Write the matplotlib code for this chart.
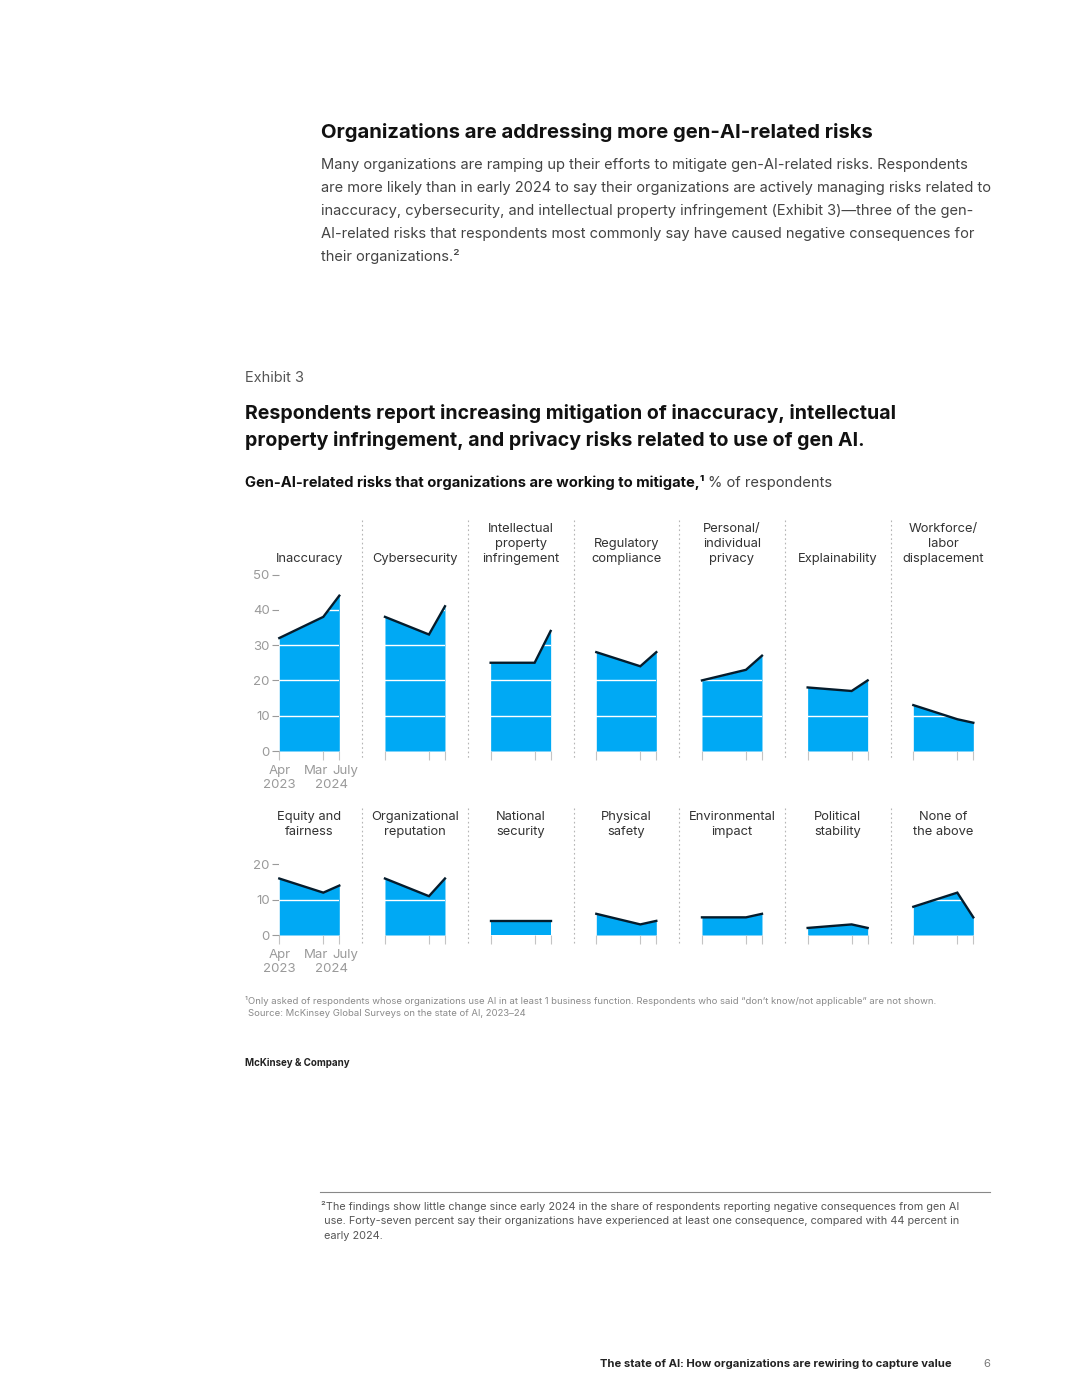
import matplotlib.pyplot as plt
from matplotlib.lines import Line2D

# -------------------------------
# Datos
risks = ["Inaccuracy", "Cybersecurity", "Intellectual\nproperty\ninfringement",
         "Regulatory\ncompliance", "Personal/\nindividual\nprivacy", "Explainability",
         "Workforce/\nlabor\ndisplacement",
         "Equity and\nfairness", "Organizational\nreputation", "National\nsecurity",
         "Physical\nsafety", "Environmental\nimpact", "Political\nstability",
         "None of\nthe above"]
apr_2023 = [32, 38, 25, 28, 20, 18, 13, 16, 16, 4, 6, 5, 2, 8]
mar_2024 = [38, 33, 25, 24, 23, 17, 9, 12, 11, 4, 3, 5, 3, 12]
jul_2024 = [44, 41, 34, 28, 27, 20, 8, 14, 16, 4, 4, 6, 2, 5]
survey_months = [0, 11, 15]   # meses desde abril 2023
top_ticks = [0, 10, 20, 30, 40, 50]
bottom_ticks = [0, 10, 20]

W, H = 1080, 1397
BLUE = "#00A9F4"
NAVY = "#051C2C"
GRAY = "#9a9a9a"
FONT = ["Inter", "DejaVu Sans"]
plt.rcParams["font.family"] = FONT


def fx(x):
    return x / W


def fy(y):
    return 1 - y / H


fig = plt.figure(figsize=(W / 100, H / 100), dpi=100)
fig.patch.set_facecolor("white")


def txt(x, y, s, **kw):
    return fig.text(fx(x), fy(y), s, **kw)


# -------------------------------
# Texto de la página
txt(321, 133, "Organizations are addressing more gen-AI-related risks",
    fontsize=14.6, fontweight="bold", color="#111111", va="center")
body = ["Many organizations are ramping up their efforts to mitigate gen-AI-related risks. Respondents",
        "are more likely than in early 2024 to say their organizations are actively managing risks related to",
        "inaccuracy, cybersecurity, and intellectual property infringement (Exhibit 3)\u2014three of the gen-",
        "AI-related risks that respondents most commonly say have caused negative consequences for",
        "their organizations.\u00b2"]
for i, line in enumerate(body):
    txt(321, 165 + i * 23, line, fontsize=10.55, color="#444444", va="center")

txt(245, 378, "Exhibit 3", fontsize=10.5, color="#555555", va="center")
txt(245, 414, "Respondents report increasing mitigation of inaccuracy, intellectual",
    fontsize=14.1, fontweight="bold", color="#111111", va="center")
txt(245, 440, "property infringement, and privacy risks related to use of gen AI.",
    fontsize=14.1, fontweight="bold", color="#111111", va="center")

# subtítulo con parte en negrita y parte normal
renderer = fig.canvas.get_renderer()
t1 = txt(245, 483, "Gen-AI-related risks that organizations are working to mitigate,\u00b9",
         fontsize=10.6, fontweight="bold", color="#111111", va="center")
bb = t1.get_window_extent(renderer)
txt(bb.x1 + 3, 483, "% of respondents", fontsize=10.6, color="#444444", va="center")

# -------------------------------
# Paneles
step = 105.67
left0 = 279.3
pw = 60
# (y del cero, máximo, ticks, primer índice, y inferior de los títulos)
rows = [(751, 50, top_ticks, 0, 565), (935, 20, bottom_ticks, 7, 838)]
px_per_unit = 3.53

for r, (y0, ymax, ticks, start, ytitle) in enumerate(rows):
    h = ymax * px_per_unit
    for j in range(7):
        k = start + j
        x_left = left0 + j * step
        ax = fig.add_axes([fx(x_left), fy(y0), fx(pw), h / H])
        vals = [apr_2023[k], mar_2024[k], jul_2024[k]]
        ax.fill_between(survey_months, vals, color=BLUE, lw=0, zorder=1)
        ax.plot(survey_months, vals, color=NAVY, lw=1.7, zorder=3,
                solid_joinstyle="miter", clip_on=False)
        for t in ticks[1:-1] if r == 0 else ticks[1:]:
            ax.axhline(t, color="white", lw=1, zorder=2)
        ax.set_xlim(0, 15)
        ax.set_ylim(0, ymax)
        for s in ax.spines.values():
            s.set_visible(False)
        ax.set_facecolor("none")
        ax.set_xticks(survey_months)
        ax.set_xticklabels([])
        ax.tick_params(axis="x", direction="out", length=6.5, width=0.8, color="#c4c4c4")
        if j == 0:
            ax.set_yticks(ticks)
            ax.tick_params(axis="y", direction="out", length=5, width=0.8,
                           color=GRAY, labelcolor=GRAY, labelsize=9.5, pad=2)
            lab = dict(xycoords=("data", "axes fraction"), textcoords="offset points",
                       fontsize=9.5, color=GRAY, ha="center", va="center",
                       annotation_clip=False)
            ax.annotate("Apr", xy=(0, 0), xytext=(0, -14.5), **lab)
            ax.annotate("2023", xy=(0, 0), xytext=(0, -24.5), **lab)
            ax.annotate("Mar", xy=(11, 0), xytext=(-5, -14.5), **lab)
            ax.annotate("July", xy=(15, 0), xytext=(4, -14.5), **lab)
            ax.annotate("2024", xy=(13, 0), xytext=(0, -24.5), **lab)
        else:
            ax.set_yticks([])
        # título del panel
        txt(x_left + pw / 2, ytitle, risks[k], ha="center", va="bottom",
            fontsize=9.3, color="#333333", linespacing=1.33)

# separadores punteados
for ya, yb in [(520, 760), (808, 944)]:
    for j in range(6):
        xs = 362.3 + j * step
        fig.add_artist(Line2D([fx(xs), fx(xs)], [fy(ya), fy(yb)], color="#b5b5b5",
                              lw=0.8, linestyle=(0, (1.5, 2.5)), transform=fig.transFigure))

# -------------------------------
# Notas al pie
txt(245, 1001, "\u00b9Only asked of respondents whose organizations use AI in at least 1 business function. "
    "Respondents who said \u201cdon\u2019t know/not applicable\u201d are not shown.",
    fontsize=6.85, color="#8a8a8a", va="center")
txt(248, 1013, "Source: McKinsey Global Surveys on the state of AI, 2023\u201324",
    fontsize=6.85, color="#8a8a8a", va="center")
txt(245, 1063, "McKinsey & Company", fontsize=7, fontweight="bold", color="#222222", va="center")

fig.add_artist(Line2D([fx(320), fx(990)], [fy(1192), fy(1192)], color="#888888",
                      lw=0.8, transform=fig.transFigure))
notes = ["\u00b2The findings show little change since early 2024 in the share of respondents reporting negative consequences from gen AI",
         " use. Forty-seven percent say their organizations have experienced at least one consequence, compared with 44 percent in",
         " early 2024."]
for i, line in enumerate(notes):
    txt(321, 1206 + i * 15, line, fontsize=7.85, color="#555555", va="center")

txt(952, 1364, "The state of AI: How organizations are rewiring to capture value",
    fontsize=8.1, fontweight="bold", color="#222222", va="center", ha="right")
txt(987, 1364, "6", fontsize=8, color="#777777", va="center", ha="center")

fig.savefig("out.png", dpi=100, facecolor="white")
